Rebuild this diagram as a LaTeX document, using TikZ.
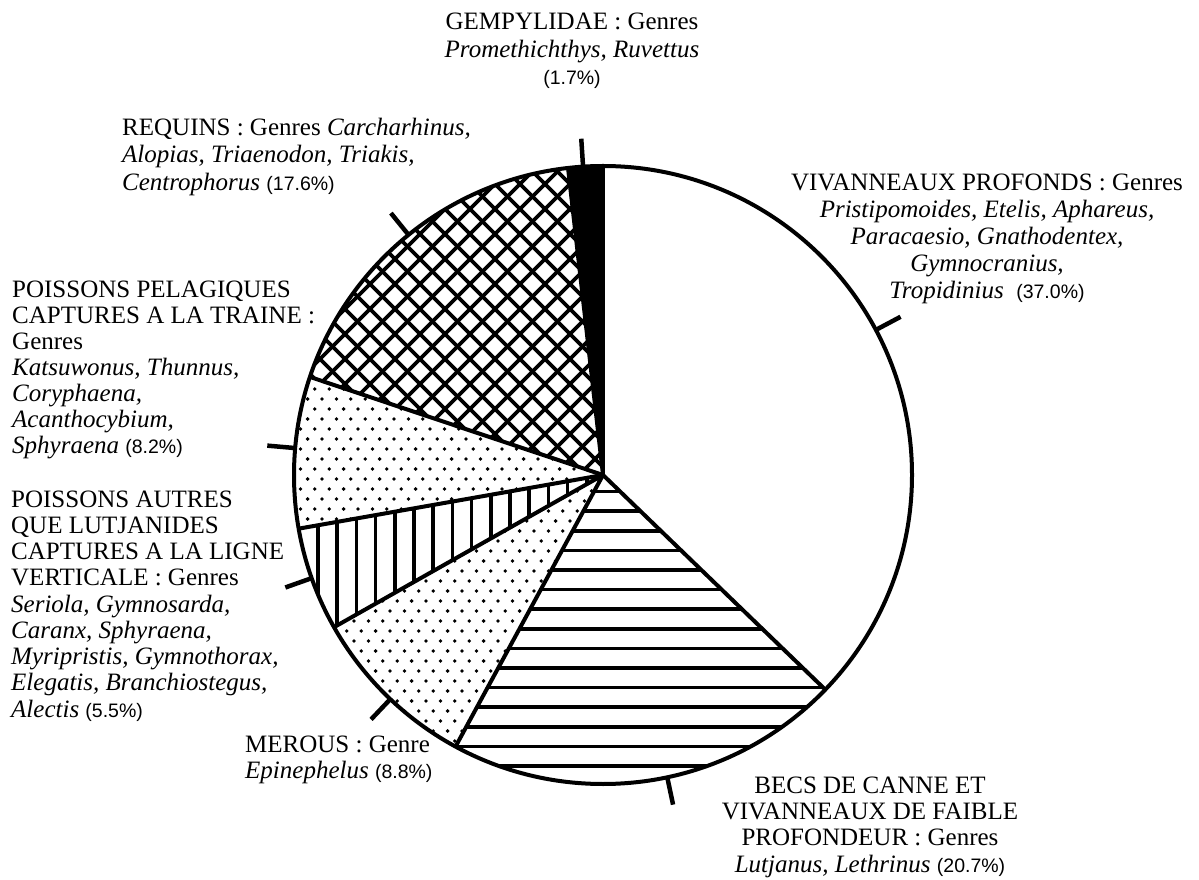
\documentclass[tikz,border=0pt]{standalone}
\usepackage{fontspec}
\setmainfont{Liberation Serif}
\newfontfamily\pctfont{Liberation Sans}
\newcommand{\pct}[1]{{\pctfont\fontsize{19.5}{26}\selectfont #1}}
\tikzset{
  outline/.style={line width=4pt, line join=round},
  hatchline/.style={line width=3.6pt},
  tickmark/.style={line width=4.5pt},
  lbl/.style={inner sep=0pt, text=black},
  lsize/.style={font={\fontsize{25}{#1}\selectfont}},
}
\begin{document}
\begin{tikzpicture}[x=1pt,y=1pt]
\useasboundingbox (0,0) rectangle (1199,879);
\fill[white] (0,0) rectangle (1199,879);
\coordinate (C) at (603,404);
\def\R{309}

% REQUINS: crosshatch
\begin{scope}
  \clip (C) -- ++(96.5:\R) arc[start angle=96.5,end angle=161.5,radius=\R] -- cycle;
  \foreach \i in {0,...,28} {
    \draw[hatchline] ({-450+25*\i+380},380) -- ({-450+25*\i+740},740);
    \draw[hatchline] ({690+25*\i-380},380) -- ({690+25*\i-740},740);
  }
\end{scope}

% PELAGIQUES: dots
\begin{scope}
  \clip (C) -- ++(161.5:\R) arc[start angle=161.5,end angle=190,radius=\R] -- cycle;
  \foreach \j in {0,...,18} \foreach \i in {0,...,23}
    \fill ({286+14.4*\i+7.2*mod(\j,2)},{330+10*\j}) circle (1.9);
\end{scope}

% AUTRES: vertical lines
\begin{scope}
  \clip (C) -- ++(190:\R) arc[start angle=190,end angle=209.5,radius=\R] -- cycle;
  \foreach \k in {-1,...,16}
    \draw[hatchline] ({318+19.2*\k},240) -- ({318+19.2*\k},420);
\end{scope}

% MEROUS: dots
\begin{scope}
  \clip (C) -- ++(209.5:\R) arc[start angle=209.5,end angle=241.5,radius=\R] -- cycle;
  \foreach \j in {0,...,32} \foreach \i in {0,...,21}
    \fill ({318+14.4*\i+7.2*mod(\j,2)},{88+10*\j}) circle (1.9);
\end{scope}

% BECS: horizontal lines
\begin{scope}
  \clip (C) -- ++(241.5:\R) arc[start angle=241.5,end angle=316,radius=\R] -- cycle;
  \foreach \k in {-7,...,11}
    \draw[hatchline] (420,{211+19.6*\k}) -- (930,{211+19.6*\k});
\end{scope}

% GEMPYLIDAE: black
\fill (C) -- ++(90:\R) arc[start angle=90,end angle=96.5,radius=\R] -- cycle;

% outlines
\draw[outline] (C) circle (\R);
\foreach \a in {90,96.5,161.5,190,209.5,241.5,316}
  \draw[outline] (C) -- ++(\a:\R);

% ticks
\foreach \a in {93.7,129,175,199.5,226.5,282,28}
  \draw[tickmark] (C) ++(\a:\R) -- ++(\a:28);

% labels
\node[lbl, lsize=27.5, anchor=north, align=center] (gemp) at (572,868.5)
  {\strut GEMPYLIDAE : Genres\\ \textit{Promethichthys, Ruvettus}\\ \pct{(1.7\%)}};

\node[lbl, lsize=27.5, anchor=north west, align=left] (req) at (122,763.3)
  {\strut REQUINS : Genres \textit{Carcharhinus,}\\ \textit{Alopias, Triaenodon, Triakis,}\\ \textit{Centrophorus} \pct{(17.6\%)}};

\node[lbl, lsize=27, anchor=north, align=center] (viv) at (987,707.9)
  {\strut VIVANNEAUX PROFONDS : Genres\\ \textit{Pristipomoides, Etelis, Aphareus,}\\ \textit{Paracaesio, Gnathodentex,}\\ \textit{Gymnocranius,}\\ \textit{Tropidinius}\enspace\pct{(37.0\%)}};

\node[lbl, lsize=26, anchor=north west, align=left] (pel) at (12,600.2)
  {\strut POISSONS PELAGIQUES\\ CAPTURES A LA TRAINE :\\ Genres\\ \textit{Katsuwonus, Thunnus,}\\ \textit{Coryphaena,}\\ \textit{Acanthocybium,}\\ \textit{Sphyraena} \pct{(8.2\%)}};

\node[lbl, lsize=26.25, anchor=north west, align=left] (aut) at (11,390.4)
  {\strut POISSONS AUTRES\\ QUE LUTJANIDES\\ CAPTURES A LA LIGNE\\ VERTICALE : Genres\\ \textit{Seriola, Gymnosarda,}\\ \textit{Caranx, Sphyraena,}\\ \textit{Myripristis, Gymnothorax,}\\ \textit{Elegatis, Branchiostegus,}\\ \textit{Alectis} \pct{(5.5\%)}};

\node[lbl, lsize=26, anchor=north west, align=left] (mer) at (245,145.2)
  {\strut MEROUS : Genre\\ \textit{Epinephelus} \pct{(8.8\%)}};

\node[lbl, lsize=26.3, anchor=north, align=center] (becs) at (870,104.4)
  {\strut BECS DE CANNE ET\\ VIVANNEAUX DE FAIBLE\\ PROFONDEUR : Genres\\ \textit{Lutjanus, Lethrinus} \pct{(20.7\%)}};
\end{tikzpicture}
\end{document}
